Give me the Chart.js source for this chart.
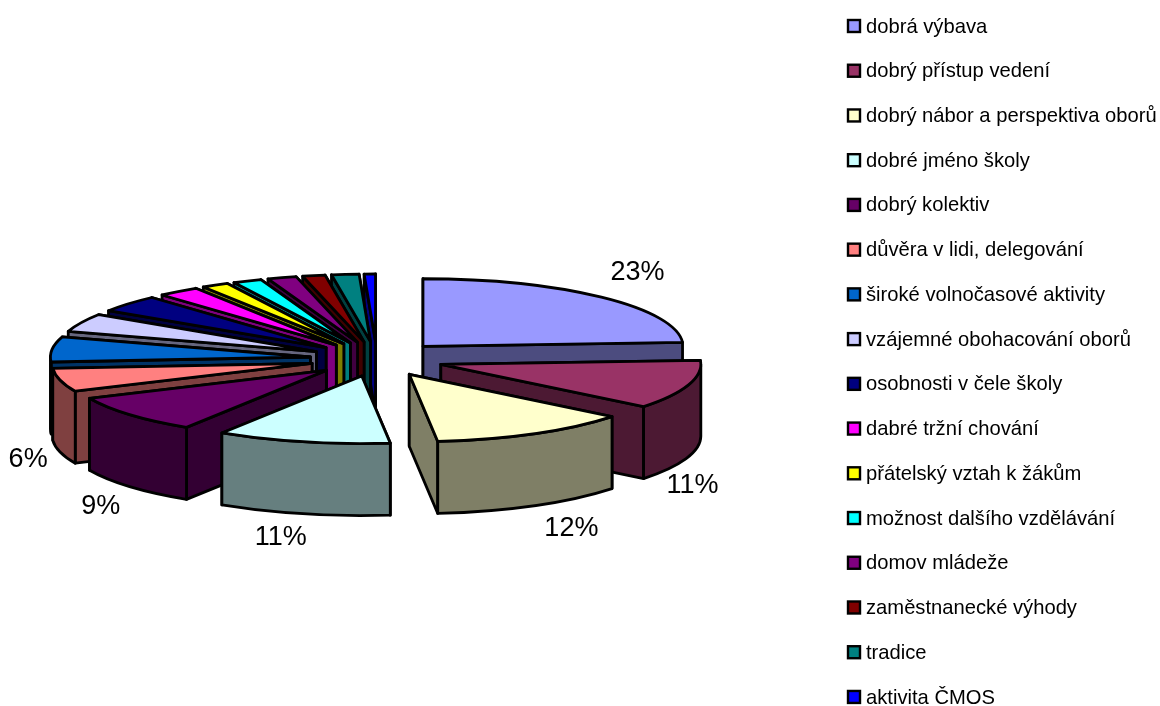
<!DOCTYPE html>
<html>
<head>
<meta charset="utf-8">
<style>
    html, body { margin: 0; padding: 0; background: #fff; }
    canvas { display: block; }
</style>
<script src="https://cdn.jsdelivr.net/npm/chart.js@4"></script>
</head>
<body>
<canvas id="pie3dChart" width="1160" height="706"></canvas>
<script>
const categories = [
    'dobrá výbava', 'dobrý přístup vedení', 'dobrý nábor a perspektiva oborů', 'dobré jméno školy',
    'dobrý kolektiv', 'důvěra v lidi, delegování', 'široké volnočasové aktivity', 'vzájemné obohacování oborů',
    'osobnosti v čele školy', 'dabré tržní chování', 'přátelský vztah k žákům', 'možnost dalšího vzdělávání',
    'domov mládeže', 'zaměstnanecké výhody', 'tradice', 'aktivita ČMOS'
];
// slice shares
const shares = [24.1, 11.7, 12.5, 10.8, 9.2, 5.6, 6.0, 4.4, 4.1, 2.6, 1.7, 1.8, 1.8, 1.4, 1.7, 0.7];
// printed percent labels, only the six biggest slices have one
const percentLabels = ['23%', '11%', '12%', '11%', '9%', '6%'];
const colors = [
    '#9999FF', '#993366', '#FFFFCC', '#CCFFFF', '#660066', '#FF8080', '#0066CC', '#CCCCFF',
    '#000080', '#FF00FF', '#FFFF00', '#00FFFF', '#800080', '#800000', '#008080', '#0000FF'
];

// projection of the flat pie
const centerX = 377;
const centerY = 359;
const tilt = 0.26;
const depth = 72;
const labelNudges = [[36, -25], [4, 101], [37, 95], [-22, 96], [-29, 92], [-32, 80]];

function darker(hex) {
    const n = parseInt(hex.slice(1), 16);
    const r = (n >> 16) >> 1, g = ((n >> 8) & 255) >> 1, b = (n & 255) >> 1;
    return 'rgb(' + r + ',' + g + ',' + b + ')';
}

function sliceGeometry(arc) {
    const mid = (arc.startAngle + arc.endAngle) / 2;
    const off = arc.options.offset;
    return {
        mid: mid,
        x: centerX + Math.cos(mid) * off,
        y: centerY + Math.sin(mid) * off * tilt,
        r: arc.outerRadius
    };
}

function radialWall(ctx, g, angle, color) {
    const rx = g.x + Math.cos(angle) * g.r;
    const ry = g.y + Math.sin(angle) * g.r * tilt;
    ctx.beginPath();
    ctx.moveTo(g.x, g.y);
    ctx.lineTo(rx, ry);
    ctx.lineTo(rx, ry + depth);
    ctx.lineTo(g.x, g.y + depth);
    ctx.closePath();
    ctx.fillStyle = color;
    ctx.fill();
    ctx.stroke();
}

const pie3d = {
    id: 'pie3d',
    beforeDatasetDraw(chart) {
        const ctx = chart.ctx;
        const arcs = chart.getDatasetMeta(0).data.map((arc, i) => ({ arc: arc, i: i }));
        // back to front
        arcs.sort((a, b) => sliceGeometry(a.arc).y - sliceGeometry(b.arc).y);

        ctx.save();
        ctx.lineWidth = 2.8;
        ctx.lineJoin = 'round';
        ctx.strokeStyle = '#000';
        arcs.forEach(item => {
            const arc = item.arc;
            const g = sliceGeometry(arc);
            const side = darker(colors[item.i]);
            const ry = g.r * tilt;

            const walls = [arc.startAngle, arc.endAngle].sort((a, b) => Math.sin(a) - Math.sin(b));
            walls.forEach(a => radialWall(ctx, g, a, side));

            // outer wall, front half only
            const lo = Math.max(arc.startAngle, 0);
            const hi = Math.min(arc.endAngle, Math.PI);
            if (lo < hi) {
                ctx.beginPath();
                ctx.ellipse(g.x, g.y, g.r, ry, 0, lo, hi);
                ctx.ellipse(g.x, g.y + depth, g.r, ry, 0, hi, lo, true);
                ctx.closePath();
                ctx.fillStyle = side;
                ctx.fill();
                ctx.stroke();
            }

            ctx.beginPath();
            ctx.moveTo(g.x, g.y);
            ctx.ellipse(g.x, g.y, g.r, ry, 0, arc.startAngle, arc.endAngle);
            ctx.closePath();
            ctx.fillStyle = colors[item.i];
            ctx.fill();
            ctx.stroke();
        });
        ctx.restore();
        return false;
    },
    afterDraw(chart) {
        const ctx = chart.ctx;
        const arcs = chart.getDatasetMeta(0).data;
        ctx.save();
        ctx.textBaseline = 'middle';
        ctx.fillStyle = '#000';

        // percent labels
        ctx.font = '27px "Liberation Sans"';
        ctx.textAlign = 'center';
        percentLabels.forEach((text, i) => {
            const g = sliceGeometry(arcs[i]);
            const x = g.x + Math.cos(g.mid) * g.r + labelNudges[i][0];
            const y = g.y + Math.sin(g.mid) * g.r * tilt + labelNudges[i][1];
            ctx.fillText(text, x, y);
        });

        // legend
        ctx.font = '20.2px "Liberation Sans"';
        ctx.textAlign = 'left';
        ctx.lineWidth = 2.4;
        ctx.strokeStyle = '#000';
        categories.forEach((name, i) => {
            const y = 26 + i * 44.73;
            ctx.fillStyle = colors[i];
            ctx.fillRect(848, y - 6, 12, 12);
            ctx.strokeRect(848, y - 6, 12, 12);
            ctx.fillStyle = '#000';
            ctx.fillText(name, 866, y + 1);
        });
        ctx.restore();
    }
};

const ctx = document.getElementById('pie3dChart').getContext('2d');

new Chart(ctx, {
    type: 'pie',
    data: {
        labels: categories,
        datasets: [{
            data: shares,
            backgroundColor: colors,
            offset: 67,
            radius: 260
        }]
    },
    options: {
        responsive: false,
        animation: false,
        plugins: {
            legend: { display: false },
            tooltip: { enabled: false }
        }
    },
    plugins: [pie3d]
});
</script>
</body>
</html>
